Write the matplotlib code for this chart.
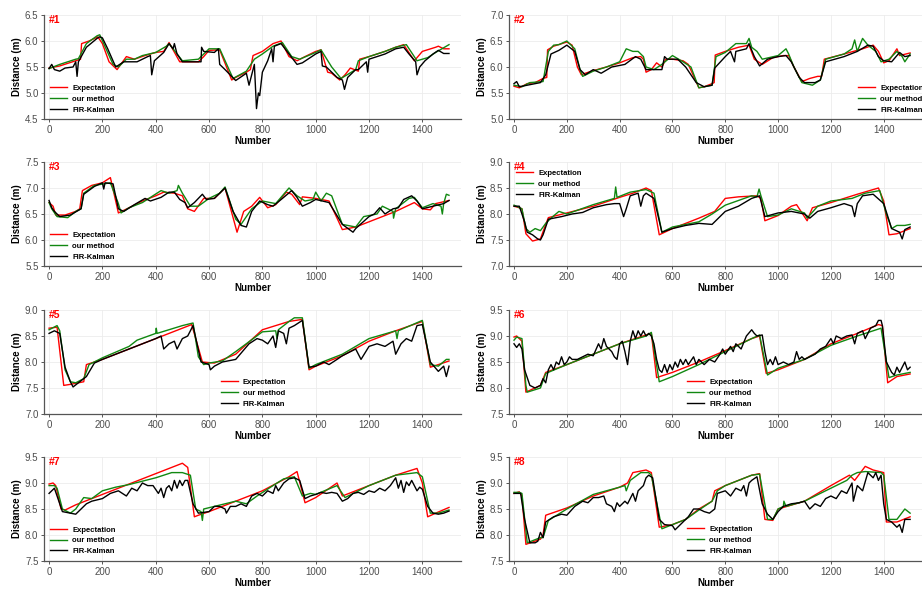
import numpy as np
import matplotlib
matplotlib.use("Agg")
import matplotlib.pyplot as plt

plt.rcParams['font.family'] = ['Liberation Sans', 'DejaVu Sans']

# ---- panel #1 ----
exp1_x = [0, 40, 100, 118, 122, 150, 183, 200, 225, 255, 290, 320, 360, 400, 430, 450, 490, 560, 580, 600, 640, 685, 700, 740, 755, 765, 800, 840, 870, 900, 930, 960, 1000, 1020, 1045, 1060, 1090, 1110, 1130, 1160, 1165, 1200, 1260, 1300, 1330, 1370, 1400, 1450, 1460, 1480, 1500]
exp1_y = [5.48, 5.52, 5.62, 5.65, 5.95, 6.0, 6.08, 5.95, 5.6, 5.45, 5.7, 5.65, 5.72, 5.78, 5.8, 5.97, 5.6, 5.6, 5.7, 5.82, 5.83, 5.25, 5.3, 5.4, 5.45, 5.72, 5.8, 5.95, 6.0, 5.7, 5.62, 5.7, 5.8, 5.83, 5.4, 5.38, 5.25, 5.35, 5.48, 5.42, 5.65, 5.7, 5.8, 5.88, 5.93, 5.62, 5.8, 5.88, 5.9, 5.85, 5.85]
our1_x = [0, 40, 100, 110, 140, 180, 190, 240, 260, 290, 320, 350, 400, 440, 450, 500, 560, 600, 640, 690, 740, 770, 800, 840, 875, 910, 940, 1000, 1020, 1060, 1095, 1150, 1160, 1200, 1260, 1300, 1340, 1380, 1420, 1450, 1500]
our1_y = [5.47, 5.55, 5.65, 5.66, 5.95, 6.1, 6.12, 5.55, 5.5, 5.65, 5.65, 5.72, 5.78, 5.9, 5.95, 5.62, 5.65, 5.85, 5.85, 5.28, 5.42, 5.65, 5.75, 5.9, 5.97, 5.7, 5.65, 5.78, 5.83, 5.5, 5.28, 5.45, 5.62, 5.7, 5.8, 5.88, 5.93, 5.62, 5.68, 5.78, 5.93]
fir1_x = [0, 10, 20, 40, 60, 90, 100, 105, 110, 140, 180, 190, 200, 220, 250, 280, 300, 330, 370, 380, 385, 395, 430, 450, 465, 470, 480, 500, 560, 570, 572, 580, 620, 635, 640, 660, 700, 740, 750, 760, 770, 778, 785, 790, 800, 820, 835, 840, 845, 870, 900, 930, 950, 1000, 1020, 1025, 1040, 1080, 1100, 1108, 1120, 1150, 1160, 1190, 1195, 1200, 1260, 1300, 1330, 1350, 1375, 1380, 1390, 1410, 1440, 1460, 1480, 1500]
fir1_y = [5.47, 5.55, 5.45, 5.42, 5.48, 5.5, 5.6, 5.32, 5.6, 5.88, 6.05, 6.08, 6.06, 5.85, 5.5, 5.6, 5.6, 5.6, 5.7, 5.72, 5.35, 5.62, 5.78, 5.95, 5.85, 5.95, 5.75, 5.6, 5.6, 5.6, 5.88, 5.8, 5.78, 5.85, 5.55, 5.45, 5.24, 5.38, 5.15, 5.35, 5.55, 4.7, 5.0, 4.95, 5.4, 5.62, 5.85, 5.6, 5.9, 5.95, 5.75, 5.55, 5.58, 5.75, 5.8, 5.52, 5.5, 5.3, 5.25, 5.07, 5.3, 5.45, 5.45, 5.6, 5.4, 5.65, 5.75, 5.85, 5.88, 5.75, 5.6, 5.35, 5.5, 5.62, 5.75, 5.82, 5.76, 5.76]

# ---- panel #2 ----
exp2_x = [0, 20, 50, 80, 110, 124, 127, 150, 200, 220, 240, 255, 270, 300, 350, 400, 450, 480, 490, 500, 520, 540, 560, 575, 600, 640, 660, 700, 720, 750, 758, 762, 800, 850, 890, 910, 940, 980, 1020, 1040, 1060, 1090, 1120, 1150, 1165, 1175, 1250, 1320, 1360, 1380, 1400, 1420, 1450, 1460, 1500]
exp2_y = [5.63, 5.6, 5.68, 5.7, 5.78, 5.8, 6.33, 6.4, 6.48, 6.42, 6.0, 5.85, 5.88, 5.93, 6.0, 6.08, 6.18, 6.2, 6.15, 5.9, 5.95, 6.08, 6.0, 6.15, 6.15, 6.12, 6.05, 5.6, 5.62, 5.68, 5.7, 6.23, 6.3, 6.38, 6.42, 6.15, 6.05, 6.18, 6.22, 6.22, 6.0, 5.72, 5.78, 5.82, 5.82, 6.15, 6.25, 6.35, 6.42, 6.3, 6.08, 6.12, 6.35, 6.22, 6.27]
our2_x = [0, 30, 60, 110, 130, 150, 170, 200, 230, 250, 260, 300, 350, 400, 425, 450, 470, 490, 500, 530, 560, 600, 640, 670, 700, 750, 765, 800, 840, 880, 890, 900, 920, 940, 1000, 1030, 1040, 1060, 1090, 1130, 1160, 1180, 1250, 1280, 1290, 1300, 1320, 1340, 1370, 1390, 1420, 1450, 1470, 1480, 1500]
our2_y = [5.65, 5.62, 5.7, 5.72, 6.3, 6.42, 6.43, 6.5, 6.35, 5.95, 5.82, 5.92, 6.0, 6.1, 6.35, 6.3, 6.3, 6.2, 6.0, 5.95, 6.05, 6.22, 6.1, 6.0, 5.6, 5.65, 6.2, 6.28, 6.45, 6.45, 6.55, 6.38, 6.3, 6.15, 6.22, 6.35, 6.25, 6.0, 5.7, 5.65, 5.75, 6.15, 6.25, 6.35, 6.52, 6.3, 6.55, 6.42, 6.3, 6.1, 6.15, 6.3, 6.2, 6.1, 6.25]
fir2_x = [0, 10, 20, 50, 100, 120, 140, 170, 200, 230, 250, 270, 300, 330, 370, 420, 460, 480, 500, 520, 560, 570, 580, 620, 650, 690, 720, 750, 760, 800, 820, 835, 840, 880, 890, 910, 930, 960, 1000, 1030, 1050, 1080, 1100, 1140, 1160, 1180, 1250, 1300, 1340, 1360, 1380, 1400, 1430, 1460, 1480, 1500]
fir2_y = [5.68, 5.72, 5.62, 5.65, 5.7, 5.85, 6.25, 6.32, 6.42, 6.3, 5.95, 5.85, 5.95, 5.88, 6.0, 6.05, 6.2, 6.15, 5.95, 5.95, 5.95, 6.2, 6.15, 6.15, 6.0, 5.7, 5.62, 5.65, 5.98, 6.2, 6.3, 6.1, 6.3, 6.35, 6.45, 6.2, 6.02, 6.15, 6.2, 6.22, 6.1, 5.8, 5.7, 5.7, 5.75, 6.1, 6.2, 6.3, 6.42, 6.4, 6.2, 6.12, 6.1, 6.28, 6.2, 6.22]

# ---- panel #3 ----
exp3_x = [0, 15, 25, 60, 100, 115, 125, 160, 200, 230, 260, 300, 350, 400, 430, 470, 500, 520, 545, 580, 620, 660, 705, 730, 760, 790, 820, 850, 890, 910, 940, 950, 1000, 1050, 1100, 1150, 1200, 1300, 1370, 1400, 1430, 1450, 1500]
exp3_y = [6.72, 6.65, 6.48, 6.48, 6.55, 6.6, 6.95, 7.05, 7.1, 7.2, 6.52, 6.62, 6.75, 6.85, 6.92, 6.9, 6.85, 6.6, 6.55, 6.8, 6.8, 7.0, 6.15, 6.55, 6.65, 6.82, 6.62, 6.68, 6.92, 6.88, 6.68, 6.83, 6.8, 6.75, 6.2, 6.25, 6.35, 6.55, 6.72, 6.6, 6.58, 6.7, 6.76]
our3_x = [0, 10, 30, 70, 100, 120, 130, 170, 230, 260, 270, 300, 350, 420, 450, 480, 485, 500, 530, 560, 600, 640, 660, 700, 720, 760, 800, 850, 900, 930, 960, 990, 1000, 1020, 1040, 1060, 1100, 1150, 1180, 1230, 1250, 1290, 1292, 1300, 1350, 1370, 1400, 1440, 1470, 1475, 1480, 1490, 1500]
our3_y = [6.72, 6.6, 6.45, 6.43, 6.55, 6.6, 6.9, 7.05, 7.1, 6.7, 6.52, 6.62, 6.72, 6.95, 6.9, 6.95, 7.05, 6.9, 6.65, 6.65, 6.8, 6.9, 7.02, 6.4, 6.3, 6.6, 6.75, 6.7, 7.0, 6.85, 6.75, 6.78, 6.92, 6.75, 6.9, 6.85, 6.3, 6.25, 6.45, 6.5, 6.65, 6.55, 6.42, 6.6, 6.8, 6.82, 6.62, 6.7, 6.65, 6.5, 6.7, 6.88, 6.86]
fir3_x = [0, 10, 20, 40, 80, 120, 130, 170, 200, 205, 210, 240, 260, 280, 320, 360, 380, 420, 450, 470, 490, 510, 520, 545, 575, 590, 620, 660, 690, 720, 740, 760, 790, 820, 840, 880, 910, 930, 950, 980, 1000, 1050, 1100, 1140, 1150, 1200, 1220, 1240, 1260, 1290, 1310, 1330, 1360, 1380, 1400, 1440, 1480, 1500]
fir3_y = [6.76, 6.62, 6.55, 6.45, 6.48, 6.6, 6.88, 7.03, 7.1, 6.98, 7.1, 7.08, 6.6, 6.55, 6.68, 6.8, 6.75, 6.82, 6.92, 6.92, 6.78, 6.72, 6.62, 6.72, 6.88, 6.78, 6.8, 7.0, 6.55, 6.28, 6.25, 6.55, 6.75, 6.68, 6.65, 6.82, 6.95, 6.82, 6.65, 6.72, 6.78, 6.72, 6.3, 6.15, 6.22, 6.45, 6.5, 6.62, 6.5, 6.6, 6.62, 6.78, 6.85, 6.75, 6.6, 6.65, 6.7, 6.76]

# ---- panel #4 ----
exp4_x = [0, 20, 30, 45, 70, 100, 120, 130, 200, 300, 400, 450, 500, 520, 550, 600, 700, 760, 800, 850, 920, 935, 950, 1000, 1050, 1070, 1110, 1130, 1200, 1300, 1380, 1400, 1420, 1450, 1500]
exp4_y = [8.15, 8.12, 8.1, 7.62, 7.48, 7.52, 7.8, 7.93, 8.02, 8.15, 8.32, 8.4, 8.5, 8.45, 7.6, 7.72, 7.92, 8.05, 8.3, 8.33, 8.35, 8.3, 7.87, 7.97, 8.15, 8.18, 7.87, 8.12, 8.22, 8.38, 8.5, 8.25, 7.6, 7.62, 7.72]
our4_x = [0, 30, 45, 60, 80, 100, 120, 140, 170, 200, 300, 380, 385, 390, 440, 500, 530, 560, 600, 700, 750, 800, 900, 920, 928, 935, 960, 1000, 1050, 1100, 1110, 1150, 1200, 1280, 1330, 1385, 1410, 1430, 1450, 1480, 1500]
our4_y = [8.17, 8.1, 7.72, 7.65, 7.72, 7.68, 7.82, 7.92, 8.05, 8.0, 8.18, 8.3, 8.52, 8.32, 8.42, 8.47, 8.4, 7.65, 7.75, 7.85, 8.0, 8.17, 8.35, 8.33, 8.48, 8.35, 7.95, 7.98, 8.1, 8.02, 7.92, 8.15, 8.25, 8.3, 8.4, 8.45, 8.0, 7.72, 7.78, 7.78, 7.8]
fir4_x = [0, 20, 40, 50, 70, 90, 100, 110, 130, 160, 180, 220, 260, 300, 350, 380, 400, 415, 425, 440, 470, 480, 490, 500, 530, 560, 600, 650, 700, 750, 780, 800, 850, 900, 930, 950, 1000, 1050, 1100, 1120, 1150, 1200, 1250, 1280, 1290, 1300, 1320, 1360, 1400, 1430, 1460, 1470, 1480, 1500]
fir4_y = [8.15, 8.15, 7.85, 7.65, 7.6, 7.52, 7.5, 7.6, 7.9, 7.93, 7.95, 8.0, 8.03, 8.12, 8.18, 8.2, 8.2, 7.95, 8.1, 8.35, 8.4, 8.15, 8.35, 8.4, 8.3, 7.65, 7.72, 7.78, 7.82, 7.8, 7.95, 8.05, 8.15, 8.3, 8.35, 7.95, 8.02, 8.05, 8.0, 7.92, 8.05, 8.12, 8.2, 8.15, 7.95, 8.2, 8.35, 8.38, 8.2, 7.72, 7.65, 7.52, 7.7, 7.75]

# ---- panel #5 ----
exp5_x = [0, 30, 55, 80, 130, 140, 200, 300, 400, 500, 535, 575, 620, 700, 800, 900, 950, 975, 1000, 1100, 1200, 1300, 1400, 1430, 1460, 1500]
exp5_y = [8.65, 8.67, 7.55, 7.57, 7.62, 7.95, 8.05, 8.25, 8.45, 8.65, 8.72, 8.0, 7.98, 8.15, 8.62, 8.78, 8.82, 7.85, 7.92, 8.12, 8.4, 8.6, 8.78, 7.9, 7.95, 8.02]
our5_x = [0, 30, 40, 60, 80, 100, 130, 150, 200, 300, 330, 400, 402, 405, 500, 540, 560, 580, 600, 650, 700, 800, 850, 855, 860, 900, 920, 950, 975, 1000, 1100, 1200, 1300, 1305, 1310, 1400, 1430, 1460, 1490, 1500]
our5_y = [8.62, 8.7, 8.6, 7.85, 7.62, 7.6, 7.68, 7.95, 8.08, 8.3, 8.42, 8.55, 8.65, 8.55, 8.7, 8.75, 8.1, 7.95, 7.98, 8.02, 8.2, 8.58, 8.6, 8.45, 8.62, 8.78, 8.85, 8.85, 7.88, 7.95, 8.15, 8.45, 8.6, 8.45, 8.6, 8.8, 7.95, 7.92, 8.05, 8.05]
fir5_x = [0, 20, 40, 60, 80, 90, 110, 140, 170, 200, 250, 300, 350, 400, 420, 430, 450, 470, 480, 500, 520, 540, 570, 600, 605, 620, 650, 700, 750, 780, 800, 820, 840, 850, 860, 880, 890, 900, 920, 950, 975, 1000, 1030, 1050, 1080, 1100, 1150, 1170, 1200, 1230, 1260, 1290, 1300, 1320, 1340, 1360, 1380, 1400, 1430, 1460, 1480, 1490, 1500]
fir5_y = [8.55, 8.6, 8.55, 7.9, 7.62, 7.52, 7.6, 7.72, 7.98, 8.05, 8.15, 8.25, 8.35, 8.45, 8.5, 8.25, 8.35, 8.4, 8.25, 8.45, 8.5, 8.7, 8.0, 7.95, 7.85, 7.92, 8.0, 8.05, 8.35, 8.45, 8.42, 8.35, 8.5, 8.28, 8.6, 8.55, 8.35, 8.65, 8.7, 8.8, 7.9, 7.92, 8.0, 7.95, 8.05, 8.12, 8.25, 8.05, 8.3, 8.35, 8.3, 8.4, 8.15, 8.35, 8.45, 8.4, 8.7, 8.72, 8.0, 7.82, 7.92, 7.72, 7.92]

# ---- panel #6 ----
exp6_x = [0, 10, 30, 45, 100, 120, 200, 300, 400, 500, 520, 540, 600, 700, 800, 900, 930, 955, 1000, 1100, 1200, 1300, 1380, 1395, 1415, 1450, 1500]
exp6_y = [8.98, 9.0, 8.9, 7.92, 8.05, 8.3, 8.45, 8.65, 8.85, 9.02, 9.05, 8.2, 8.3, 8.5, 8.72, 8.95, 9.0, 8.28, 8.35, 8.55, 8.85, 9.05, 9.22, 9.2, 8.1, 8.22, 8.27]
our6_x = [0, 10, 30, 45, 50, 100, 120, 200, 300, 400, 500, 520, 550, 600, 700, 800, 900, 930, 960, 1000, 1100, 1200, 1300, 1390, 1420, 1450, 1500]
our6_y = [8.92, 8.98, 8.95, 8.05, 7.92, 8.0, 8.28, 8.45, 8.65, 8.85, 9.0, 9.07, 8.12, 8.22, 8.45, 8.7, 8.95, 9.02, 8.25, 8.38, 8.55, 8.82, 9.0, 9.15, 8.2, 8.25, 8.3]
fir6_x = [0, 10, 20, 30, 40, 60, 80, 100, 110, 120, 130, 140, 150, 160, 170, 180, 190, 200, 210, 220, 240, 260, 280, 300, 320, 330, 340, 350, 360, 370, 380, 390, 400, 410, 420, 430, 440, 450, 460, 470, 480, 490, 500, 510, 520, 530, 540, 550, 560, 570, 580, 590, 600, 610, 620, 630, 640, 650, 660, 680, 690, 700, 720, 740, 760, 780, 790, 800, 820, 830, 840, 860, 880, 900, 910, 920, 940, 950, 960, 970, 980, 990, 1000, 1020, 1040, 1060, 1070, 1080, 1090, 1100, 1120, 1140, 1160, 1180, 1200, 1210, 1220, 1240, 1260, 1280, 1290, 1300, 1320, 1330, 1350, 1370, 1380, 1390, 1395, 1410, 1430, 1440, 1450, 1460, 1470, 1480, 1490, 1500]
fir6_y = [8.85, 8.78, 8.85, 8.75, 8.35, 8.05, 8.0, 8.05, 8.18, 8.1, 8.35, 8.45, 8.35, 8.5, 8.45, 8.6, 8.45, 8.5, 8.6, 8.55, 8.55, 8.6, 8.65, 8.62, 8.85, 8.75, 8.95, 8.8, 8.75, 8.7, 8.6, 8.55, 8.85, 8.9, 8.7, 8.45, 8.9, 9.1, 8.95, 9.1, 9.0, 9.1, 9.0, 9.05, 9.0, 8.85, 8.55, 8.35, 8.3, 8.45, 8.3, 8.45, 8.35, 8.5, 8.4, 8.55, 8.45, 8.55, 8.45, 8.6, 8.45, 8.55, 8.45, 8.55, 8.5, 8.65, 8.75, 8.65, 8.8, 8.7, 8.85, 8.75, 9.0, 9.12, 9.05, 9.0, 9.02, 8.7, 8.45, 8.55, 8.45, 8.6, 8.45, 8.5, 8.45, 8.5, 8.7, 8.55, 8.6, 8.55, 8.6, 8.65, 8.75, 8.8, 8.95, 8.85, 9.0, 8.95, 9.0, 9.02, 8.85, 9.05, 9.1, 8.95, 9.15, 9.2, 9.3, 9.3, 9.2, 8.5, 8.3, 8.25, 8.4, 8.3, 8.4, 8.5, 8.35, 8.4]

# ---- panel #7 ----
exp7_x = [0, 15, 25, 45, 60, 100, 200, 300, 400, 500, 520, 545, 560, 600, 700, 800, 900, 930, 960, 1000, 1080, 1100, 1200, 1300, 1380, 1400, 1420, 1450, 1500]
exp7_y = [8.98, 9.0, 8.95, 8.5, 8.48, 8.58, 8.78, 8.98, 9.18, 9.38, 9.3, 8.35, 8.38, 8.45, 8.65, 8.85, 9.12, 9.22, 8.62, 8.72, 9.0, 8.75, 8.95, 9.15, 9.28, 9.0, 8.35, 8.42, 8.53]
our7_x = [0, 20, 30, 50, 80, 100, 130, 160, 200, 250, 300, 400, 460, 500, 530, 550, 570, 575, 580, 620, 700, 740, 780, 840, 880, 920, 950, 980, 1000, 1080, 1110, 1200, 1300, 1380, 1400, 1430, 1460, 1500]
our7_y = [8.95, 8.95, 8.9, 8.5, 8.42, 8.5, 8.72, 8.7, 8.85, 8.92, 8.97, 9.1, 9.2, 9.2, 9.15, 8.5, 8.45, 8.28, 8.5, 8.55, 8.65, 8.6, 8.75, 8.95, 9.08, 9.12, 8.75, 8.8, 8.78, 8.95, 8.72, 8.95, 9.15, 9.2, 9.12, 8.42, 8.42, 8.48]
fir7_x = [0, 10, 20, 30, 50, 80, 100, 120, 140, 160, 200, 230, 260, 290, 310, 330, 350, 370, 390, 410, 420, 430, 440, 450, 460, 470, 480, 490, 500, 510, 520, 540, 560, 600, 620, 640, 660, 665, 680, 700, 720, 740, 760, 780, 800, 820, 840, 850, 860, 880, 900, 920, 940, 960, 980, 1000, 1020, 1040, 1060, 1080, 1100, 1120, 1140, 1160, 1180, 1200, 1220, 1240, 1260, 1280, 1300, 1310, 1320, 1330, 1340, 1350, 1360, 1370, 1380, 1390, 1400, 1420, 1440, 1460, 1480, 1500]
fir7_y = [8.8, 8.85, 8.9, 8.75, 8.45, 8.42, 8.4, 8.5, 8.6, 8.65, 8.7, 8.8, 8.85, 8.75, 8.9, 8.85, 9.0, 8.95, 8.95, 8.8, 8.9, 8.72, 8.9, 8.95, 8.85, 9.05, 8.9, 9.05, 8.95, 9.05, 9.05, 8.6, 8.42, 8.45, 8.55, 8.55, 8.5, 8.42, 8.55, 8.55, 8.6, 8.55, 8.75, 8.8, 8.75, 8.85, 8.8, 8.95, 8.85, 9.0, 9.08, 9.1, 9.05, 8.7, 8.75, 8.78, 8.82, 8.8, 8.82, 8.8, 8.65, 8.7, 8.8, 8.82, 8.78, 8.85, 8.82, 8.9, 8.85, 8.95, 9.1, 8.9, 9.05, 8.82, 9.02, 8.95, 9.05, 8.95, 8.85, 8.92, 8.88, 8.55, 8.42, 8.4, 8.42, 8.46]

# ---- panel #8 ----
exp8_x = [0, 20, 30, 45, 100, 110, 120, 200, 300, 400, 430, 450, 500, 520, 550, 600, 650, 700, 750, 760, 800, 900, 930, 950, 980, 1000, 1100, 1200, 1270, 1290, 1330, 1360, 1400, 1410, 1450, 1500]
exp8_y = [8.8, 8.83, 8.75, 7.82, 7.92, 8.0, 8.38, 8.52, 8.75, 8.92, 9.0, 9.2, 9.25, 9.2, 8.15, 8.2, 8.3, 8.5, 8.65, 8.85, 8.95, 9.15, 9.18, 8.3, 8.28, 8.5, 8.65, 8.95, 9.15, 9.05, 9.32, 9.25, 9.2, 8.25, 8.25, 8.35]
our8_x = [0, 20, 30, 50, 100, 110, 130, 200, 300, 400, 420, 425, 440, 480, 510, 520, 560, 600, 650, 700, 750, 770, 800, 900, 930, 960, 980, 1000, 1020, 1022, 1030, 1100, 1200, 1260, 1280, 1300, 1330, 1390, 1400, 1420, 1450, 1480, 1500]
our8_y = [8.82, 8.82, 8.8, 7.85, 7.95, 7.95, 8.28, 8.5, 8.78, 8.92, 8.95, 8.85, 9.05, 9.2, 9.2, 9.15, 8.12, 8.2, 8.3, 8.48, 8.65, 8.85, 8.95, 9.15, 9.17, 8.3, 8.3, 8.5, 8.55, 8.65, 8.55, 8.65, 8.9, 9.05, 9.15, 9.2, 9.22, 9.2, 9.15, 8.3, 8.3, 8.5, 8.42]
fir8_x = [0, 25, 40, 60, 80, 90, 100, 110, 120, 150, 180, 200, 230, 260, 280, 300, 320, 340, 350, 370, 380, 390, 400, 420, 430, 440, 450, 460, 470, 480, 490, 500, 510, 525, 550, 570, 600, 610, 640, 660, 680, 700, 720, 740, 760, 770, 800, 820, 840, 860, 870, 880, 890, 900, 920, 940, 960, 980, 1000, 1020, 1050, 1080, 1100, 1120, 1140, 1160, 1180, 1200, 1220, 1240, 1260, 1280, 1285, 1300, 1320, 1340, 1360, 1370, 1380, 1390, 1400, 1410, 1430, 1450, 1460, 1470, 1480, 1500]
fir8_y = [8.8, 8.8, 8.3, 7.85, 7.85, 7.88, 8.05, 7.95, 8.25, 8.35, 8.4, 8.38, 8.55, 8.65, 8.62, 8.72, 8.72, 8.75, 8.6, 8.55, 8.45, 8.62, 8.55, 8.65, 8.6, 8.7, 8.8, 8.65, 8.85, 8.9, 8.95, 9.1, 9.15, 9.1, 8.3, 8.2, 8.18, 8.1, 8.25, 8.35, 8.5, 8.5, 8.45, 8.42, 8.5, 8.8, 8.85, 8.75, 8.9, 8.85, 8.95, 8.75, 9.0, 9.05, 9.12, 8.6, 8.4, 8.3, 8.45, 8.55, 8.6, 8.62, 8.65, 8.5, 8.6, 8.55, 8.7, 8.75, 8.7, 8.85, 8.8, 9.0, 8.65, 8.95, 8.85, 9.2, 9.1, 9.2, 9.05, 9.15, 8.6, 8.3, 8.25, 8.15, 8.2, 8.05, 8.3, 8.3]

titles = ['#1', '#2', '#3', '#4', '#5', '#6', '#7', '#8']
ylims = [(4.5, 6.5), (5.0, 7.0), (5.5, 7.5), (7.0, 9.0), (7.0, 9.0), (7.5, 9.5), (7.5, 9.5), (7.5, 9.5)]
labels = ['Expectation', 'our method', 'FIR-Kalman']

series = [
    ((exp1_x, exp1_y), (our1_x, our1_y), (fir1_x, fir1_y)),
    ((exp2_x, exp2_y), (our2_x, our2_y), (fir2_x, fir2_y)),
    ((exp3_x, exp3_y), (our3_x, our3_y), (fir3_x, fir3_y)),
    ((exp4_x, exp4_y), (our4_x, our4_y), (fir4_x, fir4_y)),
    ((exp5_x, exp5_y), (our5_x, our5_y), (fir5_x, fir5_y)),
    ((exp6_x, exp6_y), (our6_x, our6_y), (fir6_x, fir6_y)),
    ((exp7_x, exp7_y), (our7_x, our7_y), (fir7_x, fir7_y)),
    ((exp8_x, exp8_y), (our8_x, our8_y), (fir8_x, fir8_y)),
]

colors = ['#ff0000', '#118811', '#000000']
# legend anchors (axes fraction, upper left corner)
leg_pos = [(0.015, 0.33), (0.845, 0.33), (0.015, 0.33), (0.017, 0.925),
           (0.424, 0.34), (0.431, 0.34), (0.015, 0.335), (0.431, 0.34)]

fig = plt.figure(figsize=(9.22, 5.92), dpi=100)
lefts = [44 / 922, 509 / 922]
widths = [417 / 922, 413 / 922]
bottoms = [473 / 592, 326 / 592, 178 / 592, 31 / 592]
h = 104 / 592

for i in range(8):
    row, col = i // 2, i % 2
    ax = fig.add_axes([lefts[col], bottoms[row], widths[col], h])
    for (xs, ys), c, lab in zip(series[i], colors, labels):
        ax.plot(xs, ys, color=c, lw=1.0, label=lab)
    ax.set_xlim(-19, 1545)
    ax.set_ylim(*ylims[i])
    ax.set_xticks(np.arange(0, 1401, 200))
    ax.set_yticks(np.arange(ylims[i][0], ylims[i][1] + 0.01, 0.5))
    ax.yaxis.set_major_formatter(matplotlib.ticker.FormatStrFormatter('%.1f'))
    ax.grid(True, color='#ececec', lw=0.6)
    ax.set_axisbelow(True)
    for s in ['top', 'right']:
        ax.spines[s].set_visible(False)
    for s in ['left', 'bottom']:
        ax.spines[s].set_color('#555555')
        ax.spines[s].set_linewidth(0.9)
    ax.tick_params(axis='both', labelsize=7, colors='#555555', labelcolor='#4d4d4d',
                   length=2.5, width=0.7, pad=1.5)
    ax.set_xlabel('Number', fontsize=7, fontweight='bold', labelpad=1)
    ax.set_ylabel('Distance (m)', fontsize=7, fontweight='bold', labelpad=2)
    ax.text(0.012, 0.955, titles[i], transform=ax.transAxes, color='#ff0000',
            fontsize=7.5, fontweight='bold', va='center', ha='left')
    ax.legend(loc='upper left', bbox_to_anchor=leg_pos[i], frameon=False,
              prop={'size': 5.5, 'weight': 'bold'}, handlelength=2.2,
              handletextpad=0.7, labelspacing=0.45, borderpad=0, borderaxespad=0)

fig.savefig('out.png', dpi=100)
